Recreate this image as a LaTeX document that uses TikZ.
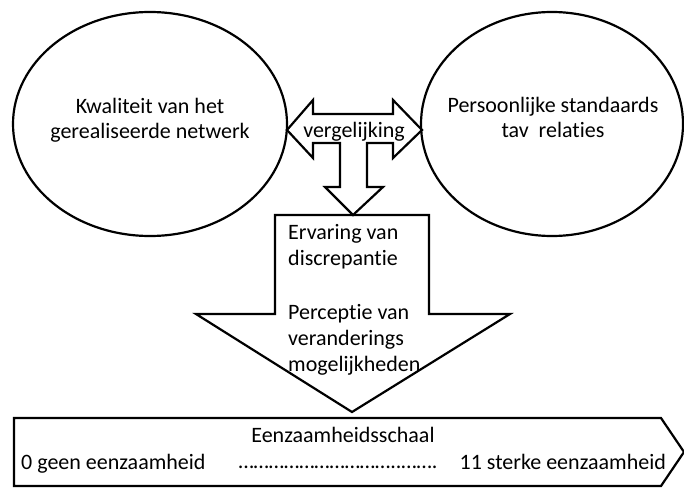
\documentclass[tikz,border=0pt]{standalone}
\usepackage{fontspec}
\setmainfont{Carlito}[Ligatures=NoCommon]
\usetikzlibrary{shapes.geometric}
\begin{document}
\begin{tikzpicture}[x=1pt,y=-1pt,
  shapeline/.style={draw=black,line width=2.2pt,line join=miter},
  txt/.style={font=\fontsize{22}{25}\selectfont,inner sep=0pt,align=center},
  boxtxt/.style={font=\fontsize{22}{26}\selectfont,inner sep=0pt,align=left},
  ell/.style={shapeline,ellipse,inner sep=0pt}]
\useasboundingbox[fill=white] (0,0) rectangle (684,487);
% ellipses
\node[ell,minimum width=274pt,minimum height=224pt] (left) at (150,124) {};
\node[ell,minimum width=262pt,minimum height=224pt] (right) at (552,124) {};
\node[txt,anchor=base] (lefttxt) at (150,138) {Kwaliteit van het\\gerealiseerde netwerk};
\node[txt,anchor=base] (righttxt) at (553,137) {Persoonlijke standaards\\tav\ \ relaties};
% double arrow with down stem
\draw[shapeline] (287,130) -- (313,100) -- (313,114) -- (393,114) -- (393,100)
  -- (422,130) -- (393,158) -- (393,143) -- (367,143) -- (367,187) -- (383,187)
  -- (353,215) -- (325,187) -- (340,187) -- (340,143) -- (313,143) -- (313,158) -- cycle;
\node[txt,anchor=base] (verg) at (354,137) {vergelijking};
% box arrow down
\draw[shapeline] (275,215) -- (429,215) -- (429,314) -- (510,314) -- (352,412)
  -- (196,314) -- (275,314) -- cycle;
\node[boxtxt,anchor=base west] (erv) at (288,265) {Ervaring van\\discrepantie};
\node[boxtxt,anchor=base west] (perc) at (288,371) {Perceptie van\\veranderings\\mogelijkheden};
% bottom scale
\draw[shapeline] (14,418) -- (661,418) -- (684,452) -- (661,486) -- (14,486) -- cycle;
\node[txt,anchor=base] (schaal) at (343,442) {Eenzaamheidsschaal};
\node[txt,anchor=base west] (nul) at (21,469) {0 geen eenzaamheid};
\node[txt,anchor=base] (dots) at (338,468) {…………………………..…….};
\node[txt,anchor=base east] (elf) at (666,469) {11 sterke eenzaamheid};
\end{tikzpicture}
\end{document}
